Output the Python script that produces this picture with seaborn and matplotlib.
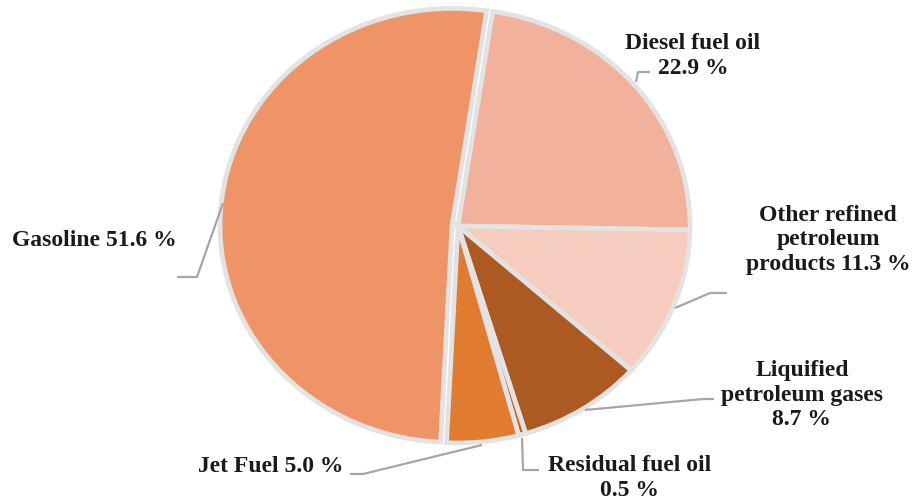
import matplotlib
matplotlib.use("Agg")
import matplotlib.pyplot as plt
import seaborn as sns

sns.set_theme(style="white")
plt.rcParams['font.family'] = ['Liberation Serif', 'DejaVu Serif']

categories = ["Diesel fuel oil", "Other refined petroleum products", "Liquified petroleum gases",
              "Residual fuel oil", "Jet Fuel", "Gasoline"]
values = [22.9, 11.3, 8.7, 0.5, 5.0, 51.6]
label_texts = ["Diesel fuel oil\n22.9 %", "Other refined\npetroleum\nproducts 11.3 %",
               "Liquified\npetroleum gases\n8.7 %", "Residual fuel oil\n0.5 %",
               "Jet Fuel 5.0 %", "Gasoline 51.6 %"]
colors = ["#F2B19A", "#F6CCBF", "#AC5A21", "#C8651F", "#E07B30", "#EE9466"]
explode = [0, 0, 0, 0, 0, 6]

W, H = 916, 504
SY = 217 / 232  # vertical squash of the reference pie
fig = plt.figure(figsize=(W / 100, H / 100), dpi=100)
ax = fig.add_axes([0, 0, 1, 1])

def P(x, y):
    return (x, (H - y) / SY)

cx, cy = P(458, 226)
ax.pie(values, colors=colors, startangle=81.4, counterclock=False,
       center=(cx, cy), radius=232, explode=explode,
       wedgeprops=dict(edgecolor="#E3E3E3", linewidth=3.4), frame=True)
ax.set_aspect('auto')
ax.set_xlim(0, W)
ax.set_ylim(0, H / SY)
ax.axis('off')

label_specs = [
    (P(693, 56), [P(650, 72), P(638, 72), P(636, 82)]),
    (P(828, 240), [P(727, 293), P(710, 293), P(675, 308)]),
    (P(802, 395), [P(714, 399), P(703, 399), P(585, 410)]),
    (P(630, 478), [P(539, 470), P(523, 470), P(522, 438)]),
    (P(271, 466), [P(350, 474), P(363, 474), P(482, 445)]),
    (P(94, 240), [P(177, 277), P(197, 277), P(223, 203)]),
]
for txt, (pos, line) in zip(label_texts, label_specs):
    ax.text(pos[0], pos[1], txt, ha='center', va='center', fontsize=17, fontweight='bold',
            color='#1a1a1a', linespacing=1.22, multialignment='center')
    xs = [p[0] for p in line]
    ys = [p[1] for p in line]
    ax.plot(xs, ys, color='#A6A6A6', lw=1.6, solid_capstyle='butt')

fig.savefig("out.png", dpi=100)
